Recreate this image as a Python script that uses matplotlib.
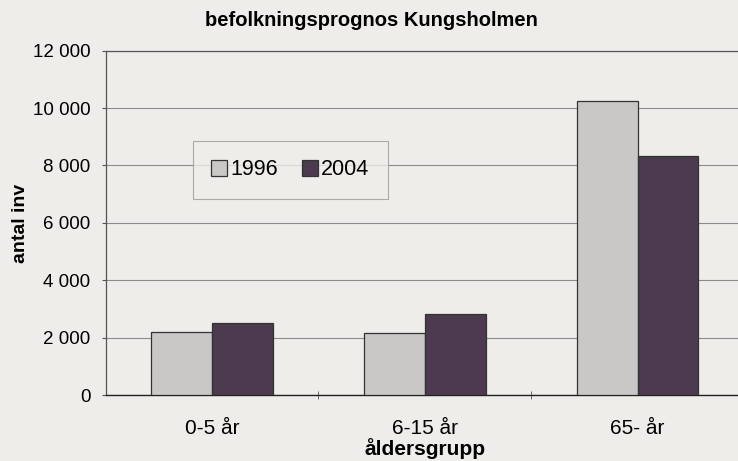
import matplotlib.pyplot as plt
import numpy as np
from matplotlib import font_manager
from matplotlib.ticker import FuncFormatter

groups = ['0-5 år', '6-15 år', '65- år']
years = ['1996', '2004']
pop_1996 = [2200, 2180, 10250]
pop_2004 = [2500, 2820, 8330]
yticks = [0, 2000, 4000, 6000, 8000, 10000, 12000]

def main():
	names = {f.name for f in font_manager.fontManager.ttflist}
	fam = 'Liberation Sans Narrow' if 'Liberation Sans Narrow' in names else 'Liberation Sans'
	plt.rcParams['font.family'] = [fam, 'DejaVu Sans']

	bg = '#eeede9'
	fig = plt.figure(figsize=(7.38, 4.61), dpi=100, facecolor=bg)
	ax = fig.add_axes([0.143, 0.143, 0.865, 0.747], facecolor=bg)

	x = np.arange(len(groups))
	w = 1 / 3.5
	ax.bar(x - w / 2, pop_1996, w, color='#c9c8c6', edgecolor='#333333', linewidth=0.9, label=years[0], zorder=3)
	ax.bar(x + w / 2, pop_2004, w, color='#4c3a4e', edgecolor='#333333', linewidth=0.9, label=years[1], zorder=3)

	ax.set_xlim(-0.5, 2.5)
	ax.set_ylim(0, 12000)
	ax.set_yticks(yticks)
	ax.yaxis.set_major_formatter(FuncFormatter(lambda v, p: f'{int(v):,}'.replace(',', ' ')))
	ax.grid(axis='y', color='#8c8c8c', linewidth=0.8, zorder=0)

	ax.set_xticks(x)
	ax.set_xticklabels(groups)
	ax.set_xticks([0.5, 1.5], minor=True)
	ax.tick_params(axis='x', which='major', length=0, pad=17, labelsize=15)
	ax.tick_params(axis='x', which='minor', length=6, direction='inout', color='#555555')
	ax.tick_params(axis='y', length=3, color='#555555', labelsize=13.5, pad=8)

	for s in ['left', 'top']:
		ax.spines[s].set_color('#555555')
		ax.spines[s].set_linewidth(0.9)
	ax.spines['right'].set_visible(False)
	ax.spines['bottom'].set_color('#222222')
	ax.spines['bottom'].set_linewidth(1.0)

	ax.set_ylabel('antal inv', fontsize=14, fontweight='bold')
	ax.yaxis.set_label_coords(-0.12, 0.5)
	ax.set_xlabel('åldersgrupp', fontsize=15, fontweight='bold')
	ax.xaxis.set_label_coords(0.5, -0.125)
	fig.text(0.503, 0.955, 'befolkningsprognos Kungsholmen', ha='center', va='center',
		fontsize=14.5, fontweight='bold')

	leg = ax.legend(loc='upper left', bbox_to_anchor=(0.137, 0.738), ncol=2, fontsize=15.5,
		frameon=True, fancybox=False, handlelength=0.75, handleheight=0.75,
		handletextpad=0.15, columnspacing=1.1, borderpad=0.85, borderaxespad=0)
	leg.get_frame().set_edgecolor('#999999')
	leg.get_frame().set_facecolor(bg)
	leg.get_frame().set_linewidth(0.8)

	fig.savefig('out.png', dpi=100, facecolor=bg)

if __name__ == "__main__":
	main()
